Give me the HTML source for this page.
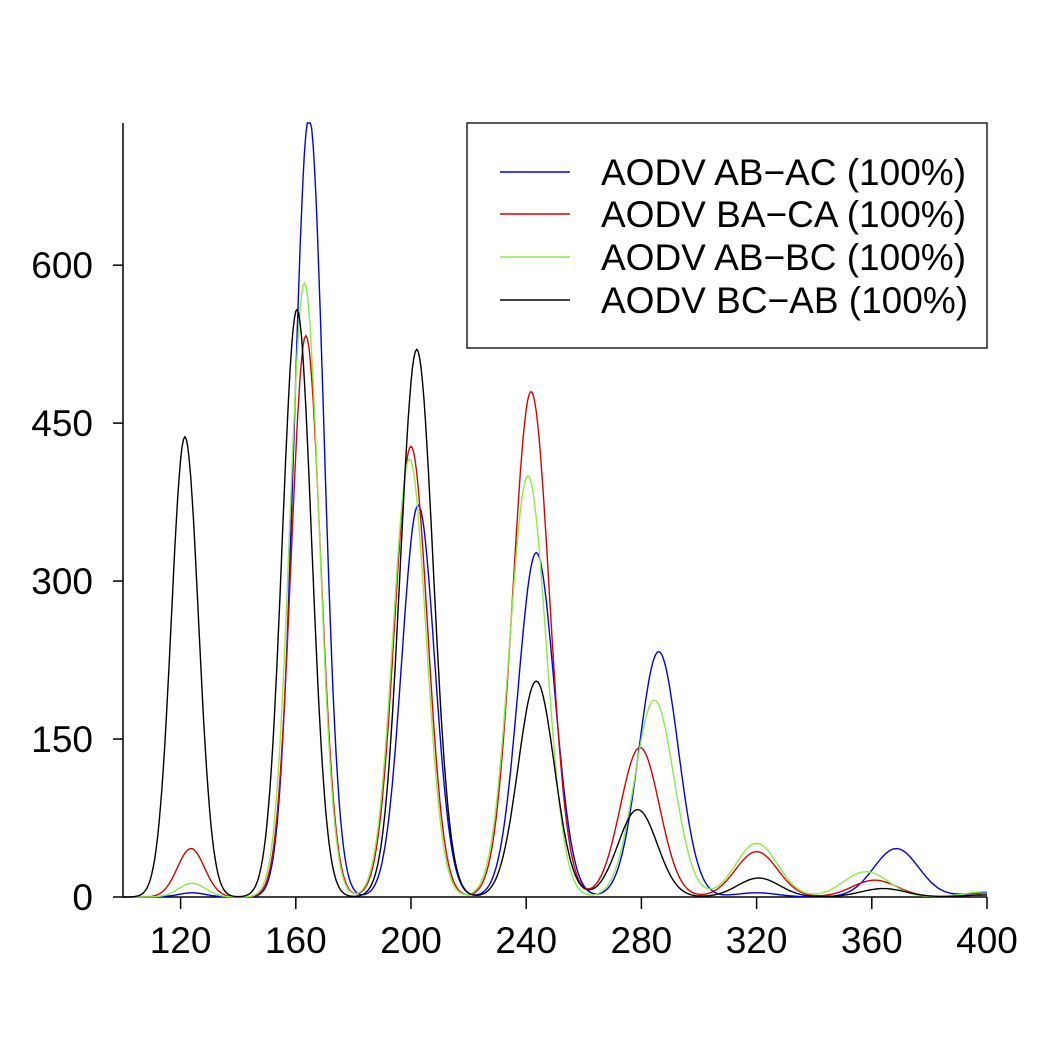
<!DOCTYPE html>
<html><head><meta charset="utf-8"><style>
html,body{margin:0;padding:0;background:#fff;}
svg{display:block;font-family:"Liberation Sans",sans-serif;}
</style></head><body>
<svg id="chart" width="1050" height="1050" viewBox="0 0 1050 1050" xmlns="http://www.w3.org/2000/svg"></svg>
<script>
const xTicks=[120,160,200,240,280,320,360,400];
const yTicks=[0,150,300,450,600];
const seriesNames=["AODV AB\u2212AC (100%)","AODV BA\u2212CA (100%)","AODV AB\u2212BC (100%)","AODV BC\u2212AB (100%)"];
const seriesColors=["#0000ee","#dd0000","#88ee44","#000000"];
const peakCentersBlue=[124,164.6,202.5,243.5,286,320,368.5,400];
const peakHeightsBlue=[4,742,372,327,233,4,46,4];
const peakCentersRed=[123.6,163.5,200,241.7,279.5,320,361,400];
const peakHeightsRed=[46,533,428,480,142,43,16,2];
const peakCentersGreen=[124,163,199.5,240.6,284.5,320,358,400];
const peakHeightsGreen=[13,583,416,400,187,51,24,5];
const peakCentersBlack=[121.5,160.4,202,243.5,278.7,320.7,364,400];
const peakHeightsBlack=[437,558,520,205,83,18,8,2];
const peakWidths=[4.7,5.1,5.7,6.3,6.8,7.3,7.8,8.0];
const X0=100,X1=400,PX0=123,PX1=987;
const Y0=0,Y1=735,PY0=897,PY1=123;
const xs=v=>PX0+(v-X0)*(PX1-PX0)/(X1-X0);
const ys=v=>PY0-(v-Y0)*(PY0-PY1)/(Y1-Y0);
const NS="http://www.w3.org/2000/svg";
const svg=document.getElementById('chart');
function mk(t,a){const e=document.createElementNS(NS,t);for(const k in a)e.setAttribute(k,a[k]);svg.appendChild(e);return e;}
let e=mk('line',{x1:PX0,y1:PY1,x2:PX0,y2:PY0,stroke:'#000','stroke-width':1.5});

e=mk('line',{x1:PX0,y1:PY0,x2:PX1,y2:PY0,stroke:'#000','stroke-width':1.5});

yTicks.forEach(t=>{
 const l=mk('line',{x1:PX0-10,x2:PX0,y1:ys(t),y2:ys(t),stroke:'#000','stroke-width':1.5});
 
 const tx=mk('text',{x:93,y:ys(t)+13,'text-anchor':'end','font-size':37});
 tx.textContent=t;
 
});
xTicks.forEach(t=>{
 const l=mk('line',{x1:xs(t),x2:xs(t),y1:PY0,y2:PY0+12,stroke:'#000','stroke-width':1.5});
 
 const tx=mk('text',{x:xs(t),y:953,'text-anchor':'middle','font-size':37});
 tx.textContent=t;
 
});
const allC=[peakCentersBlue,peakCentersRed,peakCentersGreen,peakCentersBlack];
const allH=[peakHeightsBlue,peakHeightsRed,peakHeightsGreen,peakHeightsBlack];
const sNames=['series-ab-ac','series-ba-ca','series-ab-bc','series-bc-ab'];
for(let s=0;s<4;s++){
 let d='';
 for(let v=X0;v<=X1;v+=0.5){
  let y=0;
  for(let i=0;i<allC[s].length;i++){const z=(v-allC[s][i])/peakWidths[i];y+=allH[s][i]*Math.exp(-0.5*z*z);}
  y=Math.min(y,Y1);
  d+=(d?'L':'M')+xs(v).toFixed(1)+','+ys(y).toFixed(1);
 }
 const p=mk('path',{d:d,fill:'none',stroke:seriesColors[s],'stroke-width':1.4});
 
 
}
const lg=mk('rect',{x:467,y:123,width:520,height:225,fill:'#fff',stroke:'#000','stroke-width':1.3});

const ly=[172,214,257,300];
for(let s=0;s<4;s++){
 const l=mk('line',{x1:500,x2:570,y1:ly[s],y2:ly[s],stroke:seriesColors[s],'stroke-width':1.4});
 
 const t=mk('text',{x:601,y:ly[s]+13,'font-size':37});
 t.textContent=seriesNames[s];
 
}
</script>
</body></html>
